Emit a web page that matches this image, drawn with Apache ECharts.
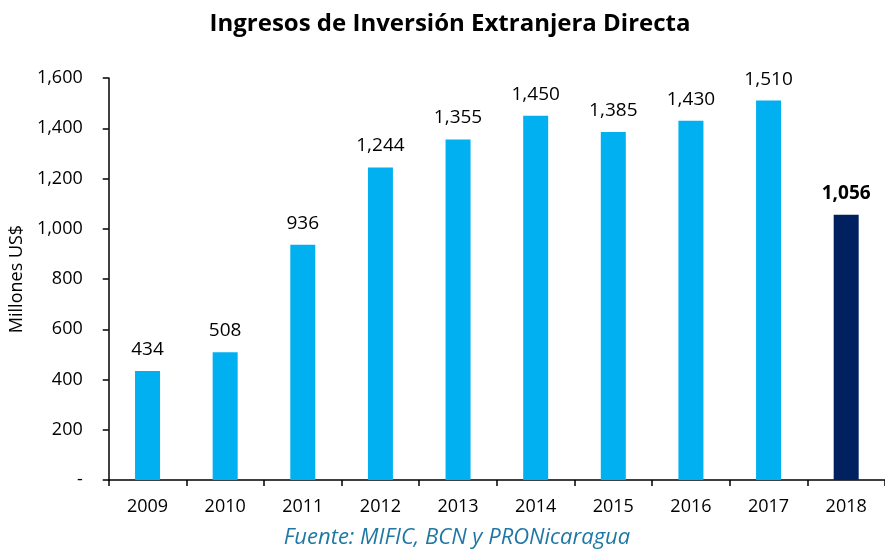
<!DOCTYPE html>
<html><head><meta charset="utf-8">
<script src="https://cdn.jsdelivr.net/npm/echarts@6/dist/echarts.min.js"></script>
<style>html,body{margin:0;padding:0;background:#fff}#c{width:885px;height:550px}</style>
</head><body><div id="c"></div>
<script>
const categories = ['2009','2010','2011','2012','2013','2014','2015','2016','2017','2018'];
const values = [434, 508, 936, 1244, 1355, 1450, 1385, 1430, 1510, 1056];
const yTicks = [0, 200, 400, 600, 800, 1000, 1200, 1400, 1600];
const highlightIndex = 9;

const FONT = '"Open Sans", "Noto Sans", sans-serif';
const chart = echarts.init(document.getElementById('c'), null, {renderer:'canvas'});
const fmt = v => v === 0 ? '-' : v.toLocaleString('en-US');

chart.setOption({
  animation: false,
  title: {
    text: 'Ingresos de Inversión Extranjera Directa',
    left: 445, top: 7, textAlign: 'center',
    textStyle: {fontFamily: FONT, fontSize: 24, fontWeight: 'bold', color: '#000'}
  },
  graphic: [{
    type: 'text', x: 457, y: 538,
    style: {text: 'Fuente: MIFIC, BCN y PRONicaragua', align: 'center', verticalAlign: 'middle',
      font: 'italic 22px ' + FONT, fill: '#1F78A4'}
  }],
  grid: {left: 108, right: -9, top: 78, bottom: 70, containLabel: false},
  xAxis: {
    type: 'category', data: categories,
    axisLine: {lineStyle: {color: '#000', width: 1.5}},
    axisTick: {show: true, alignWithLabel: false, length: 6, lineStyle: {color: '#000', width: 1.5}},
    axisLabel: {fontFamily: FONT, fontSize: 18, color: '#000', margin: 18}
  },
  yAxis: {
    type: 'value', min: 0, max: 1600, interval: 200,
    name: 'Millones US$', nameLocation: 'middle', nameGap: 74, nameRotate: 90,
    nameTextStyle: {fontFamily: FONT, fontSize: 18, color: '#000'},
    axisLine: {show: true, lineStyle: {color: '#000', width: 1.5}},
    axisTick: {show: true, length: 6, lineStyle: {color: '#000', width: 1.5}},
    splitLine: {show: false},
    axisLabel: {fontFamily: FONT, fontSize: 18, color: '#000', margin: 26,
      formatter: v => yTicks.includes(v) ? fmt(v) : ''}
  },
  series: [{
    type: 'bar', barWidth: 25,
    data: values.map((v, i) => ({
      value: v,
      itemStyle: {color: i === highlightIndex ? '#002060' : '#00B0F0'},
      label: i === highlightIndex ? {fontWeight: 'bold'} : undefined
    })),
    label: {show: true, position: 'top', distance: 12, fontFamily: FONT, fontSize: 19, color: '#000',
      formatter: p => fmt(p.value)}
  }]
});
</script></body></html>
